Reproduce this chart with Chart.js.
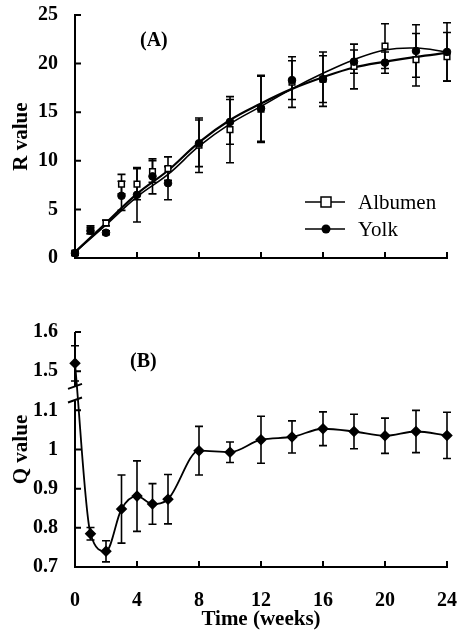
<!DOCTYPE html>
<html>
<head>
<meta charset="utf-8">
<script src="https://cdn.jsdelivr.net/npm/chart.js@4.4.0/dist/chart.umd.min.js"></script>
<style>
  body { margin: 0; background: #fff; width: 458px; height: 633px; overflow: hidden; position: relative; }
  .box { position: absolute; left: 0; width: 458px; }
  #boxA { top: 0; height: 292px; }
  #boxB { top: 300px; height: 333px; }
</style>
</head>
<body>
<div class="box" id="boxA"><canvas id="chartA"></canvas></div>
<div class="box" id="boxB"><canvas id="chartB"></canvas></div>
<script>
// Sampling times (weeks)
const weeks = [0, 1, 2, 3, 4, 5, 6, 8, 10, 12, 14, 16, 18, 20, 22, 24];

// Panel A - R value, mean and error
const albumenR   = [0.5, 2.9, 3.6, 7.6, 7.6, 8.9, 9.2, 11.6, 13.2, 15.3, 18.1, 18.4, 19.7, 21.8, 20.4, 20.7];
const albumenErr = [0.2, 0.4, 0.3, 1.0, 1.6, 1.1, 1.2, 2.8, 3.4, 3.4, 2.6, 2.4, 2.3, 2.3, 2.7, 2.5];
const yolkR      = [0.5, 2.8, 2.6, 6.4, 6.5, 8.4, 7.7, 11.8, 14.0, 15.4, 18.3, 18.4, 20.2, 20.1, 21.3, 21.2];
const yolkErr    = [0.2, 0.3, 0.2, 1.5, 2.8, 1.8, 1.7, 2.4, 2.3, 3.4, 2.0, 2.8, 1.2, 1.1, 2.7, 3.0];

// Panel A - fitted curves
const fitWeeks   = [0, 2, 4, 6, 8, 10, 12, 14, 16, 18, 20, 22, 24];
const albumenFit = [0.6, 3.4, 6.3, 8.6, 11.5, 13.8, 15.6, 17.4, 19.0, 20.4, 21.4, 21.6, 21.2];
const yolkFit    = [0.6, 3.6, 6.6, 9.0, 11.9, 14.2, 15.9, 17.4, 18.6, 19.6, 20.2, 20.7, 21.1];

// Panel B - Q value, mean and error
const qValue = [1.52, 0.785, 0.74, 0.848, 0.881, 0.861, 0.873, 0.997, 0.993, 1.025, 1.032, 1.053, 1.046, 1.035, 1.046, 1.036];
const qErr   = [0.045, 0.016, 0.027, 0.087, 0.09, 0.052, 0.063, 0.062, 0.026, 0.06, 0.041, 0.043, 0.044, 0.045, 0.054, 0.059];

// Tick labels
const rTicks = [0, 5, 10, 15, 20, 25];
const weekTicks = [0, 4, 8, 12, 16, 20, 24];

// Broken Q axis: values above the break are shifted down by this amount
const breakShift = 0.3;
const breakLow = 1.125, breakHigh = 1.16;
const toAxis = v => v > breakHigh + breakShift ? v - breakShift : v;
const fromAxis = v => v > breakHigh ? v + breakShift : v;

const serif = "'Liberation Serif', 'Times New Roman', serif";
const tickFont = { family: serif, size: 20, weight: 'bold', lineHeight: 1 };
const titleFont = { family: serif, size: 21, weight: 'bold', lineHeight: 1 };

const pts = (xs, ys) => xs.map((x, i) => ({ x: x, y: ys[i] }));

// Error bars, drawn under the markers
const errorBars = {
    id: 'errorBars',
    beforeDatasetsDraw(chart) {
        const { ctx, scales: { x, y } } = chart;
        ctx.save();
        ctx.strokeStyle = '#000';
        ctx.lineWidth = 1.6;
        chart.data.datasets.forEach(ds => {
            if (!ds.errorBars) return;
            ds.data.forEach((p, j) => {
                const e = ds.errorBars[j];
                const px = x.getPixelForValue(p.x);
                const top = y.getPixelForValue(p.y + e);
                const bot = y.getPixelForValue(p.y - e);
                ctx.beginPath();
                ctx.moveTo(px, top); ctx.lineTo(px, bot);
                ctx.moveTo(px - 4, top); ctx.lineTo(px + 4, top);
                ctx.moveTo(px - 4, bot); ctx.lineTo(px + 4, bot);
                ctx.stroke();
            });
        });
        ctx.restore();
    }
};

// Tick marks pointing into the plot
const innerTicks = {
    id: 'innerTicks',
    afterDraw(chart) {
        const { ctx, chartArea: ca, scales: { x, y } } = chart;
        ctx.save();
        ctx.strokeStyle = '#000';
        ctx.lineWidth = 2;
        ctx.beginPath();
        x.ticks.forEach(t => {
            const px = x.getPixelForValue(t.value);
            ctx.moveTo(px, ca.bottom); ctx.lineTo(px, ca.bottom - 6);
        });
        y.ticks.forEach(t => {
            const py = y.getPixelForValue(t.value);
            ctx.moveTo(ca.left, py); ctx.lineTo(ca.left + 6, py);
        });
        ctx.stroke();
        ctx.restore();
    }
};

// Panel letter
const panelLabel = {
    id: 'panelLabel',
    afterDraw(chart, args, opts) {
        const { ctx } = chart;
        ctx.save();
        ctx.font = 'bold 20px ' + serif;
        ctx.fillStyle = '#000';
        ctx.textBaseline = 'middle';
        ctx.fillText(opts.text, opts.x, opts.y);
        ctx.restore();
    }
};

// Legend inside panel A
const insideLegend = {
    id: 'insideLegend',
    afterDraw(chart) {
        const { ctx } = chart;
        const rows = [
            { label: 'Albumen', y: 202, square: true },
            { label: 'Yolk', y: 229, square: false }
        ];
        ctx.save();
        ctx.strokeStyle = '#000';
        ctx.fillStyle = '#000';
        ctx.lineWidth = 1.5;
        ctx.font = '21px ' + serif;
        ctx.textBaseline = 'middle';
        rows.forEach(r => {
            ctx.beginPath();
            ctx.moveTo(305, r.y); ctx.lineTo(345, r.y);
            ctx.stroke();
            if (r.square) {
                ctx.fillStyle = '#fff';
                ctx.fillRect(321, r.y - 5, 10, 10);
                ctx.strokeRect(321, r.y - 5, 10, 10);
                ctx.fillStyle = '#000';
            } else {
                ctx.beginPath();
                ctx.arc(326, r.y, 4.5, 0, Math.PI * 2);
                ctx.fill();
            }
            ctx.fillText(r.label, 358, r.y + 1);
        });
        ctx.restore();
    }
};

// Broken y axis for panel B
const brokenAxis = {
    id: 'brokenAxis',
    afterDraw(chart) {
        const { ctx, chartArea: ca, scales: { y } } = chart;
        const yLow = y.getPixelForValue(breakLow);
        const yHigh = y.getPixelForValue(breakHigh);
        ctx.save();
        ctx.strokeStyle = '#000';
        ctx.lineWidth = 2;
        ctx.beginPath();
        ctx.moveTo(ca.left, ca.bottom); ctx.lineTo(ca.left, yLow);
        ctx.moveTo(ca.left, yHigh); ctx.lineTo(ca.left, ca.top);
        ctx.moveTo(ca.left - 7, yLow + 2); ctx.lineTo(ca.left + 7, yLow - 3);
        ctx.moveTo(ca.left - 7, yHigh + 2); ctx.lineTo(ca.left + 7, yHigh - 3);
        ctx.stroke();
        ctx.restore();
    }
};

// fixed axis boxes so both panels share the same plot area
const fitX = h => s => { s.height = h; s.paddingLeft = 0; s.paddingRight = 0; };
const fitY = s => { s.width = 75; s.paddingTop = 0; s.paddingBottom = 0; };

const xScale = (showLabels, height) => ({
    type: 'linear',
    min: 0,
    max: 24,
    afterBuildTicks: s => { s.ticks = weekTicks.map(v => ({ value: v })); },
    afterFit: fitX(height),
    grid: { drawOnChartArea: false, drawTicks: false },
    border: { display: true, color: '#000', width: 2 },
    ticks: { display: showLabels, color: '#000', font: tickFont, padding: 24 },
    title: {
        display: showLabels,
        text: 'Time (weeks)',
        color: '#000',
        font: titleFont,
        padding: { top: 0, bottom: 3 }
    }
});

// Panel A
new Chart(document.getElementById('chartA'), {
    type: 'scatter',
    data: {
        datasets: [
            {
                label: 'Yolk',
                data: pts(weeks, yolkR),
                errorBars: yolkErr,
                showLine: false,
                pointStyle: 'circle',
                pointRadius: 3.8,
                backgroundColor: '#000',
                borderColor: '#000',
                borderWidth: 1,
                clip: false,
                order: 0
            },
            {
                label: 'Albumen',
                data: pts(weeks, albumenR),
                errorBars: albumenErr,
                showLine: false,
                pointStyle: 'rect',
                pointRadius: 4,
                backgroundColor: '#fff',
                borderColor: '#000',
                borderWidth: 1.5,
                clip: false,
                order: 1
            },
            {
                label: 'Albumen fit',
                data: pts(fitWeeks, albumenFit),
                showLine: true,
                tension: 0.4,
                pointRadius: 0,
                borderColor: '#000',
                borderWidth: 1.6,
                clip: false,
                order: 2
            },
            {
                label: 'Yolk fit',
                data: pts(fitWeeks, yolkFit),
                showLine: true,
                tension: 0.4,
                pointRadius: 0,
                borderColor: '#000',
                borderWidth: 2.2,
                clip: false,
                order: 3
            }
        ]
    },
    options: {
        responsive: true,
        maintainAspectRatio: false,
        animation: false,
        events: [],
        layout: { padding: { top: 15, right: 11, bottom: 0, left: 0 } },
        scales: {
            x: xScale(false, 34),
            y: {
                type: 'linear',
                min: 0,
                max: 25,
                afterBuildTicks: s => { s.ticks = rTicks.map(v => ({ value: v })); },
                afterFit: fitY,
                grid: { drawOnChartArea: false, drawTicks: false },
                border: { display: true, color: '#000', width: 2 },
                ticks: { color: '#000', font: tickFont, padding: 17 },
                title: { display: true, text: 'R value', color: '#000', font: titleFont, padding: { top: 11, bottom: 0 } }
            }
        },
        plugins: {
            legend: { display: false },
            tooltip: { enabled: false },
            panelLabel: { text: '(A)', x: 140, y: 41 }
        }
    },
    plugins: [errorBars, innerTicks, panelLabel, insideLegend]
});

// Panel B
new Chart(document.getElementById('chartB'), {
    type: 'scatter',
    data: {
        datasets: [
            {
                label: 'Q value',
                data: pts(weeks, qValue.map(toAxis)),
                errorBars: qErr,
                showLine: true,
                cubicInterpolationMode: 'monotone',
                pointStyle: 'rectRot',
                pointRadius: 4.5,
                backgroundColor: '#000',
                borderColor: '#000',
                borderWidth: 1.8,
                clip: false
            }
        ]
    },
    options: {
        responsive: true,
        maintainAspectRatio: false,
        animation: false,
        events: [],
        layout: { padding: { top: 32, right: 11, bottom: 0, left: 0 } },
        scales: {
            x: xScale(true, 66),
            y: {
                type: 'linear',
                min: 0.7,
                max: 1.3,
                ticks: {
                    stepSize: 0.1,
                    color: '#000',
                    font: tickFont,
                    padding: 17,
                    callback: v => String(Math.round(fromAxis(v) * 10) / 10)
                },
                afterFit: fitY,
                grid: { drawOnChartArea: false, drawTicks: false },
                border: { display: false },
                title: { display: true, text: 'Q value', color: '#000', font: titleFont, padding: { top: 11, bottom: 0 } }
            }
        },
        plugins: {
            legend: { display: false },
            tooltip: { enabled: false },
            panelLabel: { text: '(B)', x: 130, y: 62 }
        }
    },
    plugins: [errorBars, innerTicks, panelLabel, brokenAxis]
});
</script>
</body>
</html>
